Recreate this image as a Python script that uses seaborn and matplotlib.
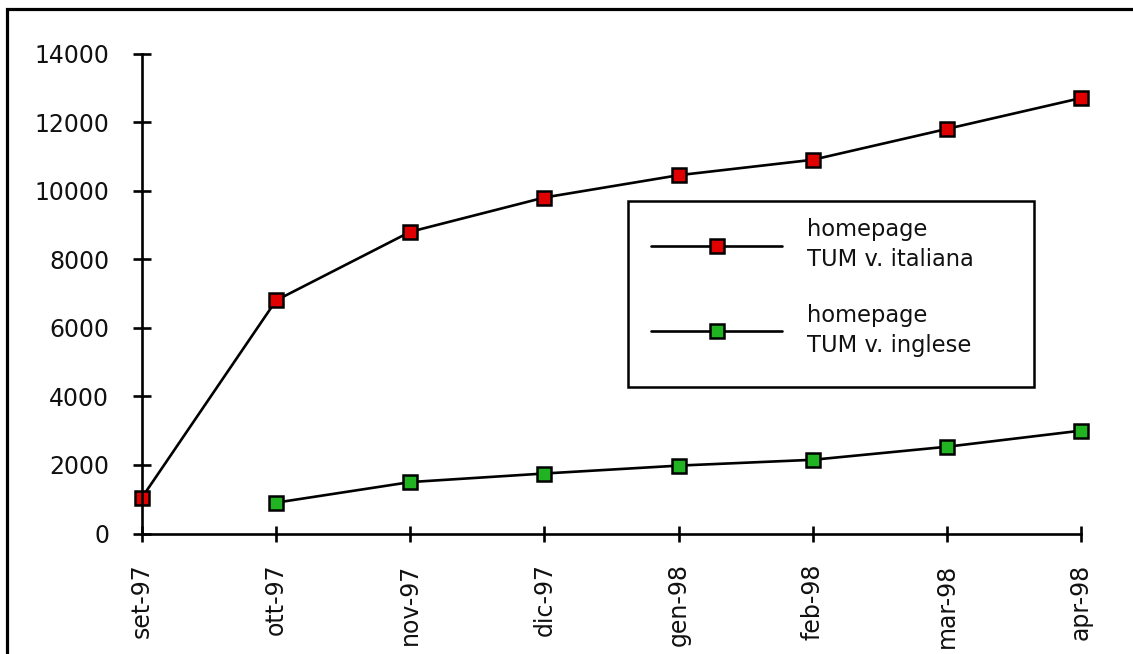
import matplotlib
matplotlib.use("Agg")
import matplotlib.pyplot as plt
import seaborn as sns
import pandas as pd
import numpy as np
from matplotlib.lines import Line2D
from matplotlib.patches import Rectangle

# ---- data ----
months = ["set-97", "ott-97", "nov-97", "dic-97", "gen-98", "feb-98", "mar-98", "apr-98"]
italiana = [1050, 6800, 8800, 9800, 10450, 10900, 11800, 12700]
inglese = [np.nan, 900, 1500, 1750, 1980, 2150, 2530, 3000]
label_it = "homepage\nTUM v. italiana"
label_en = "homepage\nTUM v. inglese"
yticks = [0, 2000, 4000, 6000, 8000, 10000, 12000, 14000]

red = "#e00000"
green = "#22b322"

sns.set_theme(style="white")
plt.rcParams["font.family"] = ["DejaVu Sans"]

W, H = 1133, 654
fig = plt.figure(figsize=(W / 100, H / 100), dpi=100)
fig.patch.set_facecolor("white")

ax_left, ax_right = 142, 1081
ax_top, ax_bottom = 53.5, 533.5
ax = fig.add_axes([ax_left / W, (H - ax_bottom) / H, (ax_right - ax_left) / W, (ax_bottom - ax_top) / H])
ax.set_facecolor("white")

df_it = pd.DataFrame({"pos": np.arange(len(months)), "val": italiana})
df_en = pd.DataFrame({"pos": np.arange(len(months)), "val": inglese}).dropna()

common = dict(color="black", linewidth=1.9, marker="s", markersize=10,
              markeredgecolor="black", markeredgewidth=1.8, clip_on=False)
sns.lineplot(data=df_it, x="pos", y="val", ax=ax, markerfacecolor=red, label=label_it, **common)
sns.lineplot(data=df_en, x="pos", y="val", ax=ax, markerfacecolor=green, label=label_en, **common)

ax.set_xlim(0, len(months) - 1)
ax.set_ylim(0, 14000)
ax.set_xticks(np.arange(len(months)))
ax.set_xticklabels(months, rotation=90, fontsize=17)
ax.set_yticks(yticks)
ax.set_yticklabels([str(v) for v in yticks], fontsize=17)
ax.set_xlabel("")
ax.set_ylabel("")
for s in ["top", "right"]:
    ax.spines[s].set_visible(False)
for s in ["left", "bottom"]:
    ax.spines[s].set_color("black")
    ax.spines[s].set_linewidth(1.9)
ax.tick_params(axis="y", left=True, direction="inout", length=13.5, width=1.9, color="black", pad=17, labelcolor="#111111")
ax.tick_params(axis="x", bottom=True, direction="inout", length=11, width=1.9, color="black", pad=16, labelcolor="#111111")
ax.grid(False)

# legend (frameless, box drawn separately)
leg = ax.legend(loc="upper left", bbox_to_anchor=(651 / W, 1 - 218 / H), bbox_transform=fig.transFigure,
                frameon=False, fontsize=16.3, handlelength=5.8, handletextpad=1.1, borderpad=0,
                labelspacing=1.43, borderaxespad=0)
for t in leg.get_texts():
    t.set_linespacing(1.4)
    t.set_color("#111111")
fig.add_artist(Rectangle((628 / W, 1 - 387 / H), (1034 - 628) / W, (387 - 201) / H,
                         transform=fig.transFigure, fill=False, edgecolor="black", linewidth=1.8))

# outer frame (top and left edges visible)
fig.add_artist(Line2D([6.5 / W, 6.5 / W, 1.0], [0.0, 1 - 8.5 / H, 1 - 8.5 / H],
                      transform=fig.transFigure, color="black", linewidth=2.3,
                      solid_joinstyle="miter"))

fig.savefig("out.png", dpi=100)
